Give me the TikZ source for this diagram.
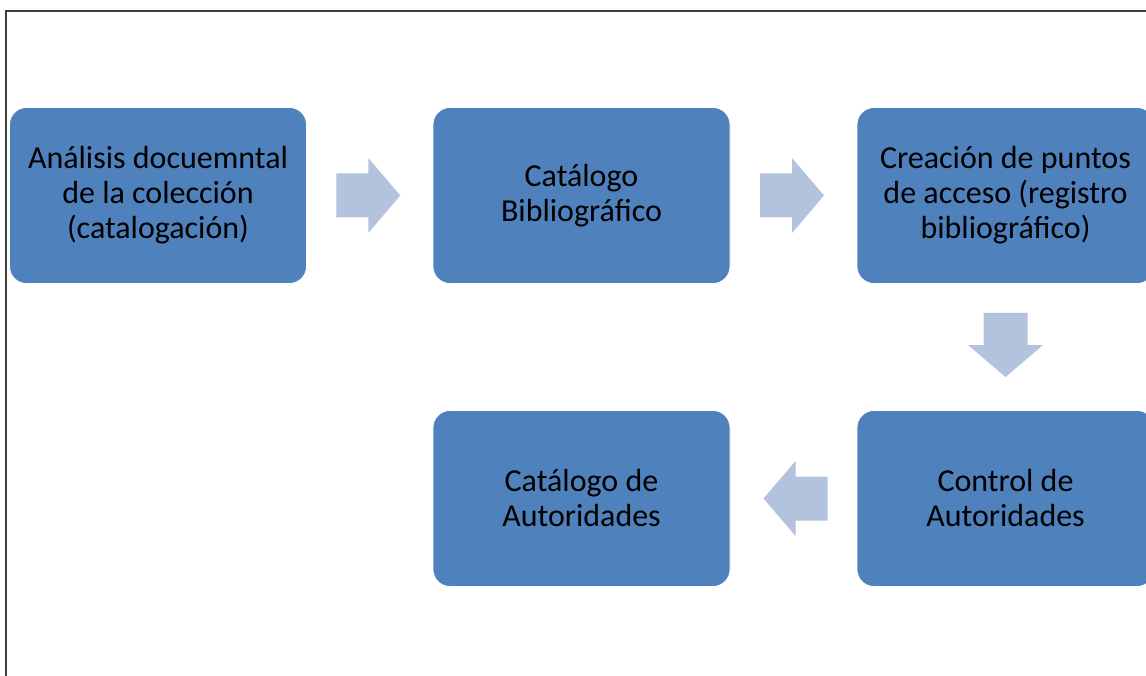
\documentclass[tikz,border=0pt]{standalone}
\usepackage{fontspec}
\setmainfont{Carlito}
\usetikzlibrary{calc}
\definecolor{boxblue}{HTML}{4F81BD}
\definecolor{arrowblue}{HTML}{B3C2DD}
\definecolor{framegray}{HTML}{404040}
\tikzset{
  stepbox/.style={rectangle, rounded corners=17pt, fill=boxblue, draw=white, line width=0.8pt,
    minimum width=297pt, minimum height=176pt, inner sep=0pt, align=center, text=black,
    font=\fontsize{32pt}{35pt}\selectfont},
  blockarrow/.pic={\fill[arrowblue] (-32,-22) -- (0,-22) -- (0,-37.5) -- (32,0) -- (0,37.5) -- (0,22) -- (-32,22) -- cycle;}
}
\begin{document}
\begin{tikzpicture}[x=1pt,y=1pt]
\useasboundingbox (0,0) rectangle (1146,-676);
\clip (0,0) rectangle (1146,-676);
\fill[white] (0,0) rectangle (1146,-676);
\draw[framegray, line width=1.4pt] (6,-676) -- (6,-11) -- (1146,-11);
\node[stepbox] (b1) at (158,-195.5) {Análisis docuemntal\\de la colección\\(catalogación)};
\node[stepbox] (b2) at (581.5,-195.5) {Catálogo\\Bibliográfico};
\node[stepbox] (b3) at (1005.5,-195.5) {Creación de puntos\\de acceso (registro\\bibliográfico)};
\node[stepbox] (b4) at (1005.5,-498.5) {Control de\\Autoridades};
\node[stepbox] (b5) at (581.5,-498.5) {Catálogo de\\Autoridades};
\pic at ($(b1.east)!0.5!(b2.west)+(-1.5,0)$) {blockarrow};
\pic at ($(b2.east)!0.5!(b3.west)+(-1.5,0)$) {blockarrow};
\pic[rotate=-90] at ($(b3.south)!0.5!(b4.north)+(0,2)$) {blockarrow};
\pic[rotate=180] at ($(b4.west)!0.5!(b5.east)+(2,0)$) {blockarrow};
\end{tikzpicture}
\end{document}
